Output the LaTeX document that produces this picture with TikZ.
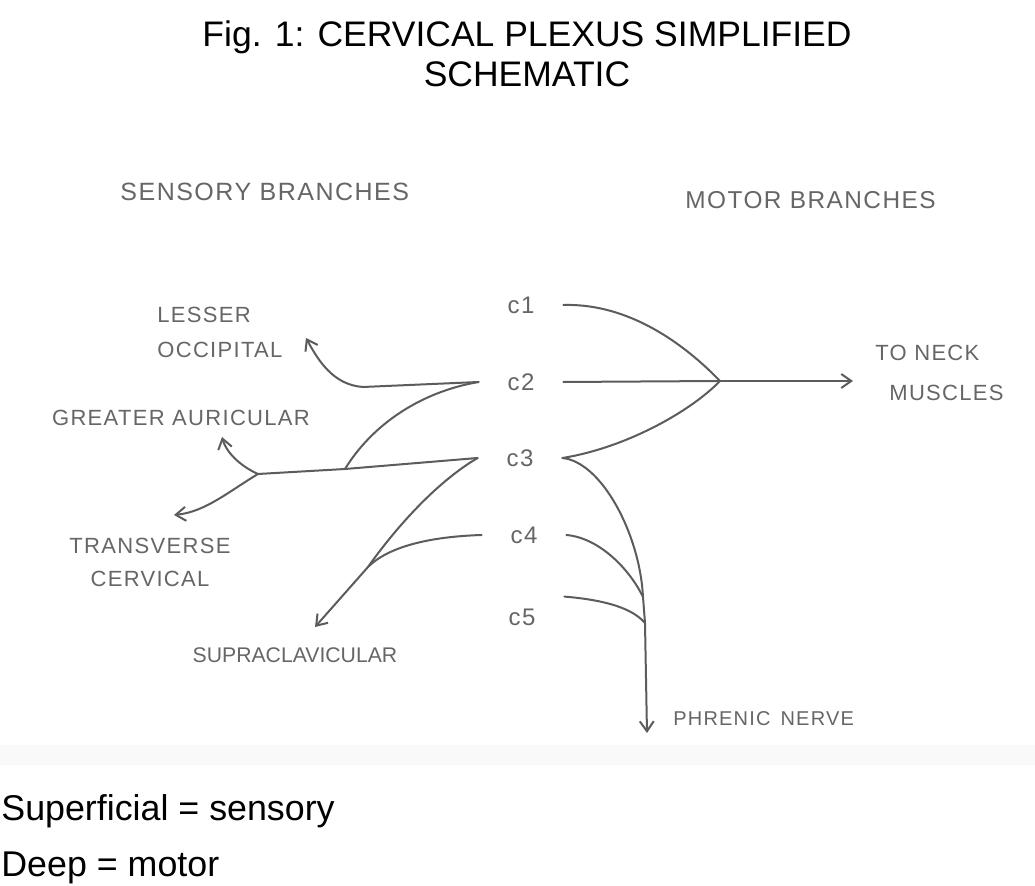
\documentclass[tikz,border=0pt]{standalone}
\usepackage{fontspec}
\setmainfont{Liberation Sans}
\newfontfamily\handfont[LetterSpace=6]{Liberation Sans}
\newfontfamily\handtight{Liberation Sans}
\usetikzlibrary{arrows.meta}
\definecolor{pencil}{HTML}{5C5C5C}
\definecolor{pencilink}{HTML}{666666}
\definecolor{paperedge}{HTML}{F9F9F9}

\begin{document}
\begin{tikzpicture}[
  x=0.5pt,
  y=-0.5pt,
  nerve/.style={
    draw=pencil,
    line width=1pt,
    line cap=round
  },
  tip/.style={-{Straight Barb[length=5pt,width=7pt]}},
  handlabel/.style={
    text=pencilink,
    inner sep=0pt,
    font=\handfont\fontsize{11}{17.5}\selectfont
  },
  headlabel/.style={
    handlabel,
    font=\handfont\fontsize{12.5}{15}\selectfont
  },
  rootnode/.style={
    handlabel,
    font=\handfont\fontsize{12}{14}\selectfont,
    minimum width=42pt,
    minimum height=10pt
  },
  printed/.style={
    text=black,
    inner sep=0pt,
    anchor=base
  }
]

\useasboundingbox (0,0) rectangle (1035,886);
\fill[white] (0,0) rectangle (1035,886);
\fill[paperedge] (0,745) rectangle (1035,765);

% title and key
\node[printed, font=\fontsize{17.75}{20}\selectfont] (title) at (527,47)
  {Fig. 1: CERVICAL PLEXUS SIMPLIFIED};
\node[printed, font=\fontsize{17.75}{20}\selectfont] (titlesub) at (527,87)
  {SCHEMATIC};
\node[printed, anchor=base west, font=\fontsize{17.9}{20}\selectfont] (keysensory) at (1,821)
  {Superficial = sensory};
\node[printed, anchor=base west, font=\fontsize{17.9}{20}\selectfont] (keymotor) at (1,877)
  {Deep = motor};

\node[headlabel, anchor=base west] (sensory) at (120,201) {SENSORY BRANCHES};
\node[headlabel, anchor=base west, font=\handfont\fontsize{12.2}{15}\selectfont] (motor) at (685,209)
  {MOTOR BRANCHES};

% spinal roots
\node[rootnode] (c1) at (521,305) {c1};
\node[rootnode] (c2) at (521,382) {c2};
\node[rootnode] (c3) at (520,458) {c3};
\node[rootnode] (c4) at (524,535) {c4};
\node[rootnode, minimum height=20pt] (c5) at (522,617) {c5};

% branch labels
\node[handlabel, anchor=north west, align=left] (lesser) at (157,307) {LESSER\\OCCIPITAL};
\node[handlabel] (greater) at (181,418) {GREATER AURICULAR};
\node[handlabel, align=center, font=\handfont\fontsize{11}{16.5}\selectfont] (transverse) at (150,562)
  {TRANSVERSE\\CERVICAL};
\node[handlabel, font=\handtight\fontsize{10.6}{12}\selectfont] (supra) at (295,655) {SUPRACLAVICULAR};
\node[handlabel, anchor=north west, align=left, font=\handfont\fontsize{11}{20}\selectfont] (neck) at (875,345)
  {TO NECK\\\hspace{7pt}MUSCLES};
\node[handlabel, anchor=west, font=\handfont\fontsize{10}{12}\selectfont] (phrenic) at (673,719)
  {PHRENIC\enspace NERVE};

% motor branches
\coordinate (motorjoin) at (720,381);
\coordinate (neckend) at (853,381);
\draw[nerve] (c1.east) .. controls (635,303) and (692,352) .. (motorjoin);
\draw[nerve] (c2.east) -- (motorjoin);
\draw[nerve] (c3.east) .. controls (625,448) and (690,412) .. (motorjoin);
\draw[nerve, tip] (motorjoin) -- (neckend);

\coordinate (c4merge) at (643,597);
\coordinate (c5merge) at (645,623);
\coordinate (phrenicend) at (647,733);
\draw[nerve, tip] (c3.east) .. controls (602,462) and (640,535) .. (c4merge)
  -- (c5merge) -- (phrenicend);
\draw[nerve] (c4.east) .. controls (600,538) and (630,570) .. (c4merge);
\draw[nerve] (c5.north east) .. controls (605,600) and (632,608) .. (c5merge);

% sensory branches
\coordinate (lesserbend) at (363,387);
\coordinate (lessertip) at (306,338);
\draw[nerve, tip] (c2.west) -- (lesserbend)
  .. controls (333,385) and (318,360) .. (lessertip);

\coordinate (trunkjoin) at (345,469);
\coordinate (trunkfork) at (258,474);
\draw[nerve] (c2.west) .. controls (420,392) and (372,425) .. (trunkjoin);
\draw[nerve] (c3.west) -- (trunkjoin) -- (trunkfork);

\coordinate (greatertip) at (222,437);
\coordinate (transversetip) at (174,515);
\draw[nerve, tip] (trunkfork) .. controls (240,466) and (226,452) .. (greatertip);
\draw[nerve, tip] (trunkfork) .. controls (228,492) and (205,512) .. (transversetip);

\coordinate (supramerge) at (368,567);
\coordinate (supratip) at (315,627);
\draw[nerve, tip] (c3.west) .. controls (440,480) and (400,522) .. (supramerge) -- (supratip);
\draw[nerve] (c4.west) .. controls (420,537) and (385,550) .. (supramerge);

\end{tikzpicture}
\end{document}
